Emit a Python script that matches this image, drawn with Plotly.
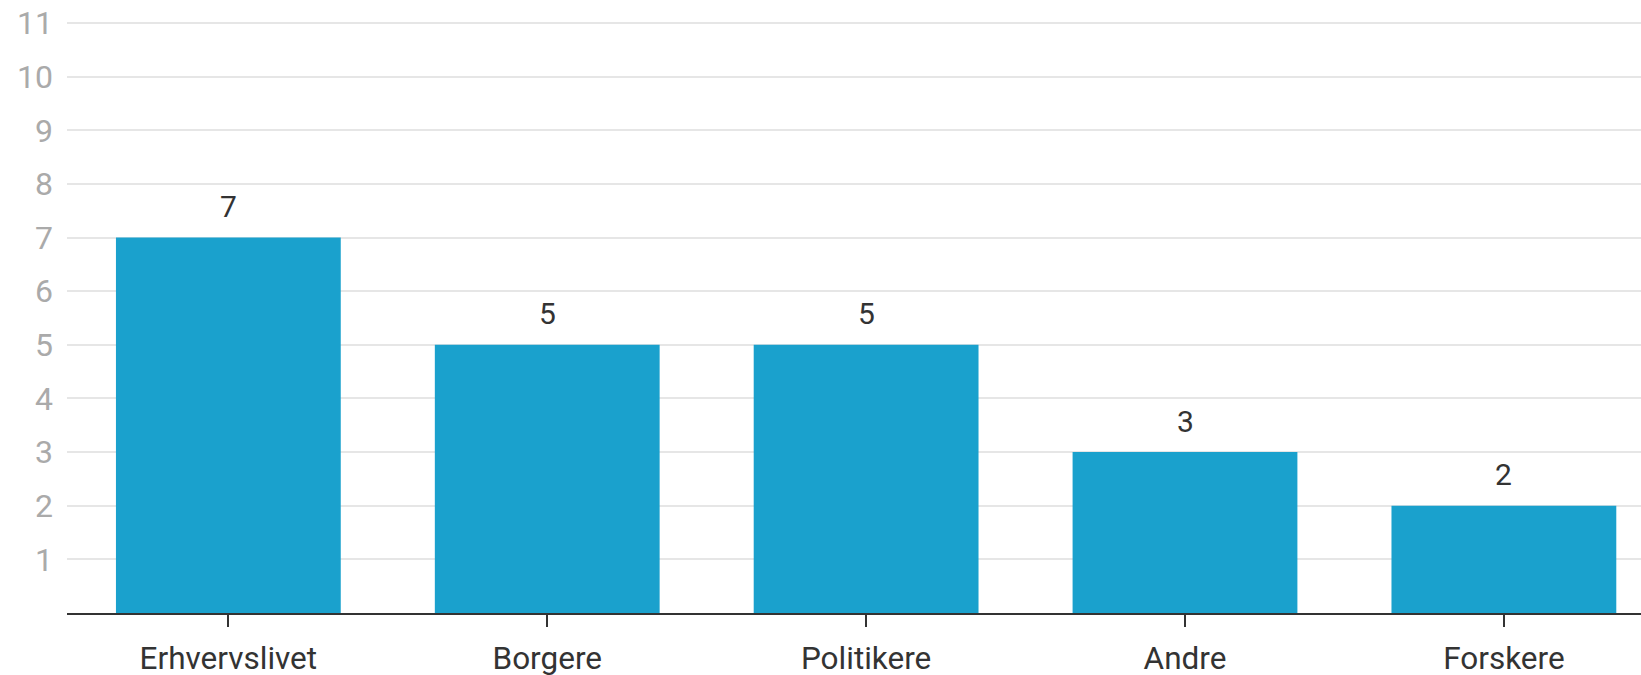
import plotly.graph_objects as go

categories = ["Erhvervslivet", "Borgere", "Politikere", "Andre", "Forskere"]
values = [7, 5, 5, 3, 2]
y_ticks = list(range(1, 12))

fig = go.Figure()
fig.add_trace(go.Bar(
    x=categories, y=values,
    marker=dict(color="#1aa1cd", line=dict(width=0)),
    width=0.705,
    hoverinfo="skip",
))

for c, v in zip(categories, values):
    fig.add_annotation(x=c, y=v, text=str(v), showarrow=False,
                       yanchor="middle", yshift=31,
                       font=dict(family="Roboto", size=30, color="#333333"))

fig.update_layout(
    width=1641, height=675,
    margin=dict(l=67, r=0, t=22, b=62, pad=0, autoexpand=False),
    plot_bgcolor="white", paper_bgcolor="white",
    showlegend=False,
    font=dict(family="Roboto"),
    xaxis=dict(
        range=[-0.506, 4.43],
        showgrid=False,
        showline=True, linecolor="#333333", linewidth=2,
        ticks="outside", ticklen=12, tickwidth=2, tickcolor="#333333",
        tickfont=dict(family="Roboto", size=31.5, color="#333333"),
        ticklabelstandoff=4,
        automargin=False,
        fixedrange=True,
    ),
    yaxis=dict(
        range=[0, 11.02],
        tickvals=y_ticks,
        showgrid=True, gridcolor="#e6e6e6", gridwidth=2,
        zeroline=False, showline=False,
        ticks="", ticklabelstandoff=13,
        tickfont=dict(family="Roboto", size=32, color="#aaaaaa"),
        automargin=False,
        fixedrange=True,
    ),
)

fig.write_html(
    "out.html",
    config={"displayModeBar": False},
    post_script="document.body.style.margin='0';document.body.style.overflow='hidden';",
)
